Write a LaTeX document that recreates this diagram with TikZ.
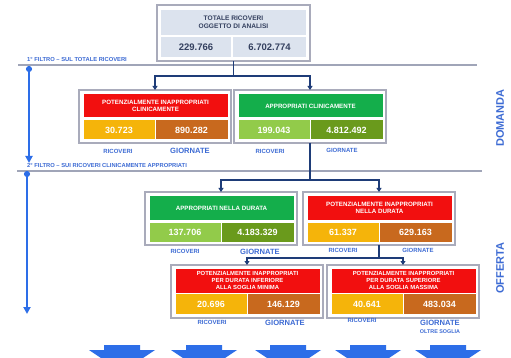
\documentclass[tikz,border=0pt]{standalone}
\usepackage{fontspec}
\setmainfont{Liberation Sans}
\usetikzlibrary{arrows.meta}

\definecolor{framegray}{HTML}{A9ABBB}
\definecolor{sepgray}{HTML}{A0A5B8}
\definecolor{topcell}{HTML}{DCE3EE}
\definecolor{topink}{HTML}{34405F}
\definecolor{redcell}{HTML}{F20F0F}
\definecolor{ambercell}{HTML}{F5B40A}
\definecolor{browncell}{HTML}{C8691E}
\definecolor{greencell}{HTML}{14AE4B}
\definecolor{lightgreen}{HTML}{92CB4A}
\definecolor{olivecell}{HTML}{6A9A1C}
\definecolor{navy}{HTML}{1E3C78}
\definecolor{labelblue}{HTML}{3D6BD4}
\definecolor{arrowblue}{HTML}{2D6EE8}

\tikzset{
  frame/.style={draw=framegray, line width=1.2pt, fill=white, inner sep=0pt, outer sep=0pt, anchor=north west},
  cell/.style={inner sep=0pt, outer sep=0pt, anchor=north west, text=white, align=center},
  titlecell/.style={cell, minimum width=144pt, minimum height=23pt, font=\bfseries\fontsize{6.2}{7.2}\selectfont},
  valcell/.style={cell, minimum width=71pt, minimum height=19pt, font=\bfseries\fontsize{9}{10}\selectfont},
  topvalcell/.style={cell, fill=topcell, text=topink, minimum height=20pt, font=\bfseries\fontsize{9.5}{10}\selectfont},
  lblsmall/.style={text=labelblue, font=\bfseries\fontsize{6}{7}\selectfont, inner sep=0pt},
  lblbig/.style={text=labelblue, font=\bfseries\fontsize{7.6}{8}\selectfont, inner sep=0pt},
  filtertext/.style={text=labelblue, font=\bfseries\fontsize{5.8}{6}\selectfont, inner sep=0pt, anchor=base west},
  sideword/.style={text=labelblue, font=\bfseries\fontsize{11}{12}\selectfont, rotate=90, inner sep=0pt},
  conn/.style={draw=navy, line width=1.2pt},
  connarrow/.style={conn, -{Triangle[width=5pt,length=4pt]}},
  sepline/.style={draw=sepgray, line width=1.2pt},
  filterarrow/.style={draw=arrowblue, line width=1.8pt, {Circle[length=6pt]}-{Triangle[width=7pt,length=7pt]}},
  blockarrow/.style={fill=arrowblue},
}

\begin{document}
\begin{tikzpicture}[x=1pt, y=-1pt]
\path[use as bounding box, fill=white] (0,0) rectangle (511,358);

% --- separators between the two filters ---
\coordinate (s1a) at (18,65);  \coordinate (s1b) at (477,65);
\coordinate (s2a) at (17,171); \coordinate (s2b) at (482,171);
\draw[sepline] (s1a) -- (s1b);
\draw[sepline] (s2a) -- (s2b);
\node[filtertext] (ft1) at (27,62) {1° FILTRO – SUL TOTALE RICOVERI};
\node[filtertext] (ft2) at (27,168) {2° FILTRO – SUI RICOVERI CLINICAMENTE APPROPRIATI};

% --- vertical filter arrows on the left ---
\coordinate (fa1s) at (29,66);  \coordinate (fa1e) at (29,163);
\coordinate (fa2s) at (27,171); \coordinate (fa2e) at (27,314);
\draw[filterarrow] (fa1s) -- (fa1e);
\draw[filterarrow] (fa2s) -- (fa2e);

% --- side words ---
\node[sideword] (dom) at (500,118) {DOMANDA};
\node[sideword] (off) at (500,268) {OFFERTA};

% --- total box ---
\node[frame, minimum width=153pt, minimum height=56pt] (top) at (157,5) {};
\node[cell, fill=topcell, text=topink, minimum width=145pt, minimum height=25pt,
      font=\bfseries\fontsize{6.6}{7.6}\selectfont] (topt) at (161,10) {TOTALE RICOVERI\\OGGETTO DI ANALISI};
\node[topvalcell, minimum width=70pt] (topv1) at (161,37) {229.766};
\node[topvalcell, minimum width=73pt] (topv2) at (233,37) {6.702.774};

% --- first level: clinical appropriateness ---
\node[frame, minimum width=152pt, minimum height=53pt] (pic) at (79,90) {};
\node[titlecell, fill=redcell] (pict) at (83.5,94.5) {POTENZIALMENTE INAPPROPRIATI\\CLINICAMENTE};
\node[valcell, fill=ambercell] (picr) at (83.5,120.5) {30.723};
\node[valcell, fill=browncell, minimum width=72pt] (picg) at (155.5,120.5) {890.282};
\node[lblsmall] (picrl) at (118,151) {RICOVERI};
\node[lblbig] (picgl) at (190,151) {GIORNATE};

\node[frame, minimum width=152pt, minimum height=53pt] (ac) at (234,90) {};
\node[titlecell, fill=greencell] (act) at (238.5,94.5) {APPROPRIATI CLINICAMENTE};
\node[valcell, fill=lightgreen] (acr) at (238.5,120.5) {199.043};
\node[valcell, fill=olivecell, minimum width=72pt] (acg) at (310.5,120.5) {4.812.492};
\node[lblsmall] (acrl) at (270,151) {RICOVERI};
\node[lblsmall] (acgl) at (342,150) {GIORNATE};

% --- second level: length of stay ---
\node[frame, minimum width=152pt, minimum height=53pt] (and) at (145,192) {};
\node[titlecell, fill=greencell] (andt) at (149.5,196.5) {APPROPRIATI NELLA DURATA};
\node[valcell, fill=lightgreen] (andr) at (149.5,222.5) {137.706};
\node[valcell, fill=olivecell, minimum width=72pt] (andg) at (221.5,222.5) {4.183.329};
\node[lblsmall] (andrl) at (185,251) {RICOVERI};
\node[lblbig] (andgl) at (260,252) {GIORNATE};

\node[frame, minimum width=152pt, minimum height=53pt] (pind) at (303,192) {};
\node[titlecell, fill=redcell] (pindt) at (307.5,196.5) {POTENZIALMENTE INAPPROPRIATI\\NELLA DURATA};
\node[valcell, fill=ambercell] (pindr) at (307.5,222.5) {61.337};
\node[valcell, fill=browncell, minimum width=72pt] (pindg) at (379.5,222.5) {629.163};
\node[lblsmall] (pindrl) at (343,250) {RICOVERI};
\node[lblsmall] (pindgl) at (418,250) {GIORNATE};

% --- third level: below minimum / above maximum threshold ---
\node[frame, minimum width=152pt, minimum height=53pt] (pmin) at (171,265) {};
\node[titlecell, fill=redcell, minimum height=24pt,
      font=\bfseries\fontsize{5.9}{6.9}\selectfont] (pmint) at (175.5,268.5) {POTENZIALMENTE INAPPROPRIATI\\PER DURATA INFERIORE\\ALLA SOGLIA MINIMA};
\node[valcell, fill=ambercell, minimum height=20pt] (pminr) at (175.5,294) {20.696};
\node[valcell, fill=browncell, minimum width=72pt, minimum height=20pt] (pming) at (247.5,294) {146.129};
\node[lblsmall] (pminrl) at (212,322) {RICOVERI};
\node[lblbig] (pmingl) at (285,323) {GIORNATE};

\node[frame, minimum width=152pt, minimum height=53pt] (pmax) at (327,265) {};
\node[titlecell, fill=redcell, minimum height=24pt,
      font=\bfseries\fontsize{5.9}{6.9}\selectfont] (pmaxt) at (331.5,268.5) {POTENZIALMENTE INAPPROPRIATI\\PER DURATA SUPERIORE\\ALLA SOGLIA MASSIMA};
\node[valcell, fill=ambercell, minimum height=20pt] (pmaxr) at (331.5,294) {40.641};
\node[valcell, fill=browncell, minimum width=72pt, minimum height=20pt] (pmaxg) at (403.5,294) {483.034};
\node[lblsmall] (pmaxrl) at (362,320) {RICOVERI};
\node[lblbig] (pmaxgl) at (440,323) {GIORNATE};
\node[lblsmall, font=\bfseries\fontsize{5.4}{6}\selectfont] (pmaxol) at (440,332) {OLTRE SOGLIA};

% --- connectors ---
\path (top.south) ++(0,15) coordinate (j1);
\draw[conn] (top.south) -- (j1);
\draw[connarrow] (j1) -| (pic.north);
\draw[connarrow] (j1) -| (ac.north);

\path (ac.south) ++(0,37) coordinate (j2);
\draw[conn] (ac.south) -- (j2);
\draw[connarrow] (j2) -| (and.north);
\draw[connarrow] (j2) -| (pind.north);

\path (pind.south) ++(0,13) coordinate (j3);
\draw[conn] (pind.south) -- (j3);
\draw[connarrow] (j3) -| (pmin.north);
\draw[connarrow] (j3) -| (pmax.north);

% --- block arrows along the bottom edge ---
\begin{scope}
\clip (0,0) rectangle (511,358);
\foreach \cx in {122,204,288,368,448} {
  \fill[blockarrow] (\cx-18,345) -- (\cx+18,345) -- (\cx+18,350) -- (\cx+33,350)
        -- (\cx,372) -- (\cx-33,350) -- (\cx-18,350) -- cycle;
}
\end{scope}
\end{tikzpicture}
\end{document}
